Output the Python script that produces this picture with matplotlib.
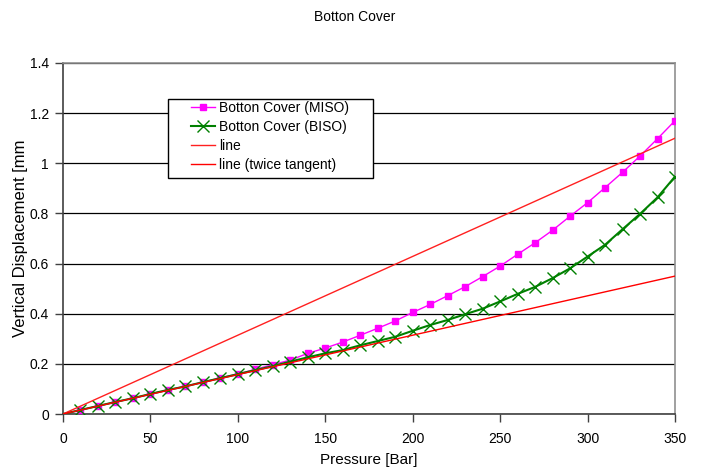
import matplotlib

matplotlib.use('Agg')

import matplotlib.pyplot as plt
from matplotlib.patches import Rectangle
from matplotlib.ticker import FormatStrFormatter, MultipleLocator

plt.rcParams['font.family'] = ['Liberation Sans', 'DejaVu Sans']

# pressure steps [Bar]
pressure = [0, 10, 20, 30, 40, 50, 60, 70, 80, 90, 100, 110, 120, 130, 140, 150, 160, 170,
            180, 190, 200, 210, 220, 230, 240, 250, 260, 270, 280, 290, 300, 310, 320,
            330, 340, 350]

# vertical displacement [mm]
miso = [0, 0.016, 0.032, 0.048, 0.063, 0.080, 0.096, 0.111, 0.127, 0.144, 0.160, 0.178,
        0.197, 0.215, 0.242, 0.263, 0.287, 0.314, 0.342, 0.371, 0.405, 0.437, 0.472,
        0.508, 0.548, 0.590, 0.637, 0.683, 0.733, 0.789, 0.843, 0.903, 0.964, 1.029,
        1.098, 1.170]
biso = [0, 0.016, 0.032, 0.048, 0.063, 0.080, 0.096, 0.110, 0.127, 0.143, 0.159, 0.175,
        0.191, 0.209, 0.226, 0.242, 0.255, 0.274, 0.291, 0.308, 0.332, 0.355, 0.375,
        0.398, 0.420, 0.449, 0.479, 0.507, 0.542, 0.581, 0.628, 0.675, 0.737, 0.798,
        0.864, 0.947]

# straight reference lines
line_x = [0, 350]
line_y = [0, 1.10]
tangent_y = [0, 0.55]

fig = plt.figure(figsize=(7.03, 4.70), dpi=100)
ax = fig.add_axes([63 / 703, 56 / 470, 612 / 703, 351 / 470])

ax.set_axisbelow(True)
ax.yaxis.grid(True, color='black', linewidth=0.9)

ax.plot(pressure, miso, '-s', color='#FF00FF', linewidth=1.0, markersize=4.5,
        markevery=slice(1, None), label='Botton Cover (MISO)', zorder=3)
ax.plot(pressure, biso, '-x', color='#008000', linewidth=1.5, markersize=8,
        markeredgewidth=1.0, markevery=slice(1, None), label='Botton Cover (BISO)', zorder=4)
ax.plot(line_x, line_y, '-', color='#FF2020', linewidth=1.0, label='line', zorder=5)
ax.plot(line_x, tangent_y, '-', color='#FF0000', linewidth=1.0, label='line (twice tangent)', zorder=5)

ax.set_xlim(0, 350)
ax.set_ylim(0, 1.4)
ax.xaxis.set_major_locator(MultipleLocator(50))
ax.yaxis.set_major_locator(MultipleLocator(0.2))
ax.yaxis.set_major_formatter(FormatStrFormatter('%g'))
ax.tick_params(axis='both', direction='out', length=6, width=1, color='#404040',
               labelsize=10)
ax.tick_params(axis='x', pad=7)
ax.tick_params(axis='y', pad=4)

for side in ('left', 'bottom'):
    ax.spines[side].set_color('#404040')
    ax.spines[side].set_linewidth(1.2)
for side in ('top', 'right'):
    ax.spines[side].set_color('#909090')
    ax.spines[side].set_linewidth(1.2)

ax.set_xlabel('Pressure [Bar]', fontsize=11, labelpad=5)
ax.set_ylabel('Vertical Displacement [mm', fontsize=12, labelpad=1)

fig.text(355 / 703, 1 - 17 / 470, 'Botton Cover', ha='center', va='center', fontsize=10)

# legend box drawn by hand so the padding matches the original
box = Rectangle((105 / 612, 236 / 351), 205 / 612, 79 / 351, transform=ax.transAxes,
                facecolor='white', edgecolor='black', linewidth=1.0, zorder=6)
ax.add_patch(box)
leg = ax.legend(loc='upper left', bbox_to_anchor=(128 / 612, 313 / 351), fontsize=10,
                frameon=False, borderpad=0, labelspacing=0.36, handlelength=1.7,
                handletextpad=0.3, borderaxespad=0)
leg.set_zorder(7)

fig.savefig('out.png', dpi=100)
